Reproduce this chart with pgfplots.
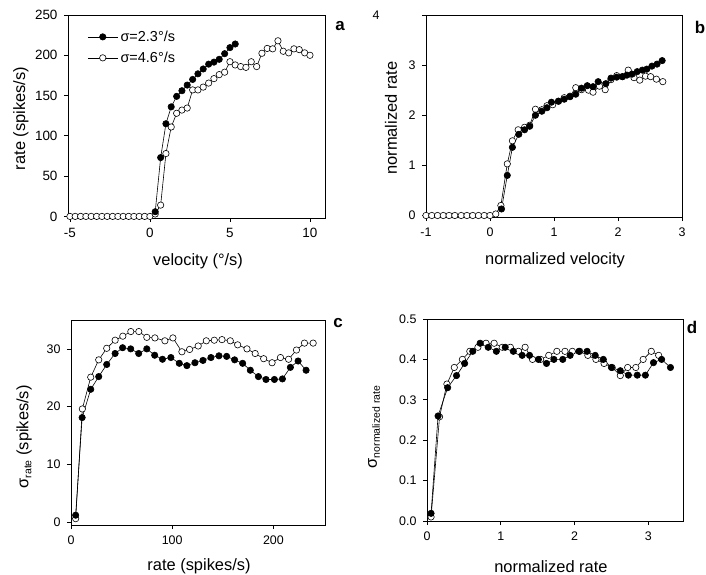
\documentclass[border=0pt]{standalone}
\usepackage{pgfplots}
\pgfplotsset{compat=1.18}
\usepackage{fontspec}
\setmainfont{Liberation Sans}
\pgfplotsset{
  panel/.style={
    scale only axis,
    anchor=north west,
    tick pos=left,
    tick align=outside,
    major tick length=4bp,
    axis line style={line width=0.7bp},
    every tick/.style={line width=0.7bp, black},
    /pgf/number format/assume math mode=true,
    tick label style={font=\fontsize{12.5}{12.5}\selectfont},
    xticklabel style={yshift=-3bp},
    yticklabel style={xshift=-3bp},
    every axis y label/.style={rotate=90, anchor=center, font=\fontsize{16.5}{16.5}\selectfont},
    every axis x label/.style={anchor=center, font=\fontsize{16.5}{16.5}\selectfont},
    clip=false,
  },
  fil/.style={black, line width=0.6bp, mark=*, mark size=3.2bp, mark options={fill=black, solid}},
  opn/.style={black, line width=0.6bp, mark=*, mark size=3.2bp, mark options={fill=white, draw=black, solid}},
}
\begin{document}
\begin{tikzpicture}
\useasboundingbox (0,0) rectangle (706bp,-575bp);
% ---------- panel a ----------
\begin{axis}[panel, at={(68bp,-15bp)}, width=257bp, height=203bp,
  xmin=-5.12, xmax=10.94, ymin=-2, ymax=250,
  xtick={-5,0,5,10}, ytick={0,50,100,150,200,250},
  tick label style={font=\fontsize{13.5}{13.5}\selectfont},
  xlabel={velocity (°/s)}, ylabel={rate (spikes/s)},
  x label style={at={(axis description cs:0.506,-0.212)}},
  y label style={at={(axis description cs:-0.183,0.49)}},
  legend style={at={(axis description cs:0.075,0.935)}, anchor=north west, draw=none, fill=none,
    font=\fontsize{14.5}{16}\selectfont, row sep=4bp, inner sep=0pt, nodes={inner sep=2.5bp}},
  legend cell align=left,
  legend image code/.code={\draw[mark repeat=2,mark phase=2,#1] plot coordinates {(0bp,0bp)(15bp,0bp)(30bp,0bp)};},
]
\addplot[opn, forget plot] coordinates {
(-5,0)(-4.67,0)(-4.33,0)(-4,0)(-3.67,0)(-3.33,0)(-3,0)(-2.67,0)(-2.33,0)(-2,0)(-1.67,0)(-1.33,0)(-1,0)(-0.67,0)(-0.33,0)(0,0)
(0.33,3)(0.67,14)(1.0,78)(1.33,111)(1.67,128)(2.0,132)(2.33,134.5)(2.67,157)(3.0,157)(3.33,160.5)(3.67,165.5)(4.0,171)(4.33,176)(4.67,179)
(5.0,192)(5.33,188)(5.67,186)(6.0,185)(6.33,192)(6.67,186)(7.0,202.5)(7.33,208.5)(7.67,208)(8.0,218)(8.33,205)(8.67,203)(9.0,208)(9.33,207)(9.67,203)(10.0,200)};
\addplot[fil] coordinates {
(0.33,5.8)(0.67,73)(1.0,115)(1.33,136)(1.67,149)(2.0,156)(2.33,163)(2.67,170)(3.0,177)(3.33,183)(3.67,189)(4.0,191.5)(4.33,195)(4.67,202)(5.0,209.5)(5.33,214)};
\addlegendentry{σ=2.3°/s}
\addlegendimage{opn}
\addlegendentry{σ=4.6°/s}
\end{axis}
\node[font=\fontsize{17}{17}\selectfont\bfseries] at (340bp,-26bp) {a};
% ---------- panel b ----------
\begin{axis}[panel, at={(426bp,-15bp)}, width=256bp, height=202bp,
  xmin=-1, xmax=3, ymin=-0.03, ymax=4,
  xtick={-1,0,1,2,3}, ytick={0,1,2,3,4},
  yticklabels={0,1,2,3,{4\hspace*{36bp}}},
  xlabel={normalized velocity}, ylabel={normalized rate},
  x label style={at={(axis description cs:0.504,-0.213)}},
  y label style={at={(axis description cs:-0.137,0.49)}},
]
\addplot[opn] coordinates {
(-1,0)(-0.91,0)(-0.82,0)(-0.73,0)(-0.64,0)(-0.55,0)(-0.45,0)(-0.36,0)(-0.27,0)(-0.18,0)(-0.09,0)(0,0)(0.09,0.03)
(0.17,0.2)(0.27,1.03)(0.35,1.49)(0.44,1.71)(0.54,1.76)(0.62,1.80)(0.71,2.12)(0.81,2.11)(0.89,2.19)(0.98,2.21)(1.07,2.28)(1.16,2.35)(1.25,2.38)
(1.34,2.55)(1.43,2.51)(1.54,2.50)(1.61,2.46)(1.71,2.58)(1.80,2.51)(1.89,2.71)(1.98,2.79)(2.07,2.77)(2.16,2.90)(2.25,2.75)(2.34,2.70)(2.43,2.78)(2.51,2.77)(2.60,2.72)(2.70,2.67)};
\addplot[fil] coordinates {
(0.18,0.13)(0.27,0.80)(0.35,1.36)(0.45,1.62)(0.54,1.71)(0.62,1.78)(0.71,2.0)(0.81,2.08)(0.89,2.15)(0.96,2.26)(1.07,2.28)(1.16,2.32)(1.25,2.37)
(1.34,2.42)(1.43,2.54)(1.52,2.59)(1.61,2.57)(1.69,2.67)(1.81,2.63)(1.89,2.74)(1.98,2.76)(2.07,2.77)(2.14,2.80)(2.22,2.82)(2.30,2.87)(2.38,2.90)(2.45,2.92)(2.53,2.98)(2.61,3.02)(2.69,3.09)};
\end{axis}
\node[font=\fontsize{17}{17}\selectfont\bfseries] at (700bp,-27bp) {b};
% ---------- panel c ----------
\begin{axis}[panel, at={(71bp,-320bp)}, width=254bp, height=205bp,
  xmin=0, xmax=251, ymin=-0.5, ymax=35,
  xtick={0,100,200}, ytick={0,10,20,30},
  xlabel={rate (spikes/s)}, ylabel={σ\raisebox{-0.35ex}{\fontsize{10.5}{10.5}\selectfont rate} (spikes/s)},
  x label style={at={(axis description cs:0.504,-0.2)}},
  y label style={at={(axis description cs:-0.185,0.43)}},
]
\addplot[opn] coordinates {
(4.6,0.6)(11.2,19.6)(19.5,25.1)(27.4,28.1)(35.3,30.1)(43.6,31.5)(51.2,32.2)(59.1,33.0)(67,33.0)(74.9,32.0)(82.9,31.9)(92.8,31.4)(100.7,31.9)
(109.6,29.5)(117.2,29.9)(125.7,30.5)(133.7,31.4)(141.6,31.5)(149.2,31.6)(157.4,31.4)(164.7,30.7)(173.9,30.0)(182,29.2)(190.4,28.3)(198.7,27.6)
(207,28.5)(215,28.2)(222.8,29.8)(230.7,31.0)(239.3,31.0)};
\addplot[fil] coordinates {
(4.6,1.2)(11,18.1)(19.5,23.0)(27.4,25.2)(35.3,27.3)(43.6,29.2)(51,30.2)(59,30.0)(66.9,29.2)(74.9,30.0)(82.7,28.9)(90.4,28.2)(98.7,28.5)
(107,27.5)(114.5,27.1)(122.5,27.6)(130.4,28.0)(138.3,28.5)(146.2,28.8)(153.8,28.7)(161.7,28.1)(169.6,27.5)(177.2,26.3)(185.2,25.2)(192.7,24.7)
(201,24.7)(208.9,24.8)(216.8,26.8)(224.4,27.9)(232.3,26.3)};
\end{axis}
\node[font=\fontsize{17}{17}\selectfont\bfseries] at (338bp,-323bp) {c};
% ---------- panel d ----------
\begin{axis}[panel, at={(427bp,-319bp)}, width=256bp, height=202bp,
  xmin=0, xmax=3.47, ymin=0, ymax=0.5,
  xtick={0,1,2,3}, ytick={0,0.1,0.2,0.3,0.4,0.5},
  yticklabel style={/pgf/number format/.cd, fixed, fixed zerofill, precision=1},
  xlabel={normalized rate}, ylabel={σ\raisebox{-0.35ex}{\fontsize{10.5}{10.5}\selectfont normalized rate}},
  x label style={at={(axis description cs:0.484,-0.228)}},
  y label style={at={(axis description cs:-0.207,0.465)}},
]
\addplot[opn] coordinates {
(0.055,0.01)(0.17,0.258)(0.27,0.339)(0.37,0.38)(0.48,0.40)(0.58,0.42)(0.69,0.43)(0.80,0.44)(0.91,0.44)(1.02,0.43)(1.13,0.43)(1.24,0.42)(1.33,0.43)
(1.43,0.40)(1.54,0.40)(1.65,0.41)(1.76,0.42)(1.87,0.42)(1.97,0.42)(2.07,0.42)(2.18,0.41)(2.29,0.40)(2.40,0.39)(2.51,0.38)(2.62,0.36)
(2.72,0.38)(2.83,0.38)(2.93,0.40)(3.04,0.42)(3.14,0.41)};
\addplot[fil] coordinates {
(0.055,0.019)(0.15,0.26)(0.28,0.33)(0.40,0.36)(0.51,0.39)(0.62,0.42)(0.72,0.44)(0.83,0.43)(0.94,0.42)(1.06,0.43)(1.17,0.42)(1.29,0.41)(1.39,0.41)
(1.51,0.40)(1.62,0.39)(1.72,0.40)(1.84,0.40)(1.94,0.41)(2.06,0.42)(2.17,0.42)(2.28,0.41)(2.39,0.40)(2.50,0.38)(2.62,0.372)(2.73,0.361)
(2.85,0.361)(2.96,0.361)(3.07,0.392)(3.18,0.40)(3.30,0.38)};
\end{axis}
\node[font=\fontsize{17}{17}\selectfont\bfseries] at (692bp,-327bp) {d};
\end{tikzpicture}
\end{document}
